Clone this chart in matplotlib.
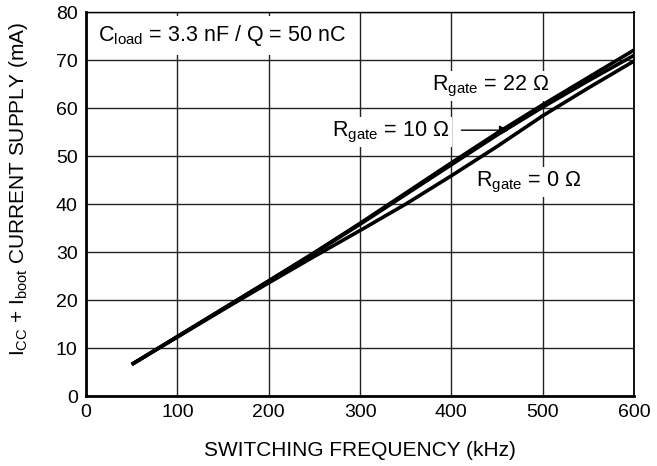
import matplotlib
matplotlib.use("Agg")
import matplotlib.pyplot as plt

plt.rcParams['font.family'] = ['Liberation Sans', 'DejaVu Sans']
plt.rcParams['mathtext.fontset'] = 'custom'
plt.rcParams['mathtext.rm'] = 'Liberation Sans'
plt.rcParams['mathtext.it'] = 'Liberation Sans:italic'
plt.rcParams['mathtext.bf'] = 'Liberation Sans:bold'

# Data
freq_khz = [50, 100, 150, 200, 250, 300, 350, 400, 450, 500, 550, 600]
rgate_22 = [6.6, 12.4, 18.2, 24.0, 29.9, 36.0, 42.3, 48.6, 54.8, 60.7, 66.4, 72.1]
rgate_10 = [6.6, 12.4, 18.2, 24.0, 29.8, 35.8, 42.0, 48.2, 54.4, 60.2, 65.7, 71.0]
rgate_0 = [6.6, 12.3, 18.0, 23.6, 29.1, 34.5, 40.0, 45.9, 52.0, 58.4, 64.2, 69.8]

x_ticks = [0, 100, 200, 300, 400, 500, 600]
y_ticks = [0, 10, 20, 30, 40, 50, 60, 70, 80]

fig = plt.figure(figsize=(6.57, 4.66), dpi=100)
ax = fig.add_axes([0.131, 0.150, 0.834, 0.824])

for ys in (rgate_0, rgate_10, rgate_22):
    ax.plot(freq_khz, ys, color='black', lw=2.6, solid_capstyle='butt',
            solid_joinstyle='round', zorder=6)

ax.set_xlim(0, 600)
ax.set_ylim(0, 80)
ax.set_xticks(x_ticks)
ax.set_yticks(y_ticks)
ax.grid(True, color='#222222', lw=1.0)
ax.set_axisbelow(True)
ax.tick_params(length=0, labelsize=14, pad=6, colors='black')

ax.spines['left'].set_linewidth(2.0)
ax.spines['bottom'].set_linewidth(2.0)
ax.spines['right'].set_linewidth(1.3)
ax.spines['top'].set_linewidth(1.0)

ax.set_xlabel('SWITCHING FREQUENCY (kHz)', fontsize=15)
ax.xaxis.set_label_coords(0.5, -0.118)
ax.set_ylabel(r'I$_{\mathrm{CC}}$ + I$_{\mathrm{boot}}$ CURRENT SUPPLY (mA)', fontsize=15)
ax.yaxis.set_label_coords(-0.102, 0.54)

box = dict(facecolor='white', edgecolor='none', pad=2)
ax.text(13, 75.2, r'C$_{\mathrm{load}}$ = 3.3 nF / Q = 50 nC', fontsize=15.5,
        ha='left', va='center', bbox=dict(facecolor='white', edgecolor='none', pad=5), zorder=4)
ax.text(379, 64.6, r'R$_{\mathrm{gate}}$ = 22 Ω', fontsize=15.5, ha='left', va='center', bbox=box, zorder=4)
ax.text(269, 55.0, r'R$_{\mathrm{gate}}$ = 10 Ω', fontsize=15.5, ha='left', va='center', bbox=box, zorder=4)
ax.text(427, 44.6, r'R$_{\mathrm{gate}}$ = 0 Ω', fontsize=15.5, ha='left', va='center', bbox=box, zorder=4)

ax.annotate('', xy=(463, 55.4), xytext=(411, 55.4),
            arrowprops=dict(arrowstyle='-|>', color='black', lw=1.0,
                            mutation_scale=14, shrinkA=0, shrinkB=0), zorder=5)

fig.savefig('out.png', dpi=100)
